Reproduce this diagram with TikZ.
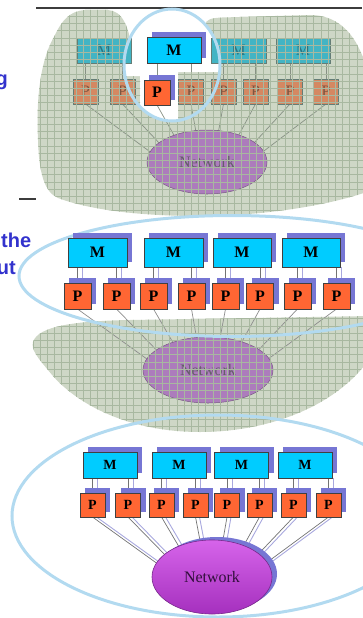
\documentclass[tikz,border=0pt]{standalone}
\usepackage{fontspec}
\setmainfont{Liberation Serif}
\newfontfamily\captionsans{Liberation Sans}
\usetikzlibrary{shapes.geometric,shadows,calc}
\pgfdeclarelayer{ground}
\pgfdeclarelayer{wires}
\pgfdeclarelayer{hubs}
\pgfdeclarelayer{dimboxes}
\pgfdeclarelayer{mesh}
\pgfdeclarelayer{ringlow}
\pgfdeclarelayer{top}
\pgfsetlayers{ground,wires,hubs,dimboxes,mesh,ringlow,main,top}

\definecolor{blobfill}{RGB}{206,215,198}
\definecolor{meshcol}{RGB}{168,184,160}
\definecolor{cyanbox}{RGB}{0,204,255}
\definecolor{orangebox}{RGB}{255,102,51}
\definecolor{cyandim}{RGB}{66,180,196}
\definecolor{orangedim}{RGB}{212,136,98}
\definecolor{cyandimtext}{RGB}{45,115,128}
\definecolor{orangedimtext}{RGB}{125,85,65}
\definecolor{dimedge}{RGB}{100,125,118}
\definecolor{shadowcol}{RGB}{118,118,212}
\definecolor{ringcol}{RGB}{178,218,240}
\definecolor{captioncol}{RGB}{50,50,205}
\definecolor{netdimfill}{RGB}{172,124,188}
\definecolor{netdimedge}{RGB}{120,90,130}
\definecolor{netdimtext}{RGB}{100,95,105}
\definecolor{netlight}{RGB}{214,100,234}
\definecolor{netdark}{RGB}{165,48,190}
\definecolor{netedge}{RGB}{120,40,140}
\definecolor{nettext}{RGB}{50,15,60}
\definecolor{wirecol}{RGB}{115,115,115}
\definecolor{wirelight}{RGB}{140,140,140}
\definecolor{wiredim}{RGB}{135,145,132}
\definecolor{wireshade}{RGB}{168,168,222}
\definecolor{rulecol}{RGB}{60,60,60}

% square mesh laid over the shaded regions
\newcommand\meshlines{%
  \foreach \gx in {4,11.2,...,366} {\draw[meshline] (\gx,0) -- (\gx,440);}%
  \foreach \gy in {1.8,9,...,440} {\draw[meshline] (0,\gy) -- (372,\gy);}%
}

\tikzset{
  rule/.style={draw=rulecol, line width=1.2pt},
  caption/.style={inner sep=0pt, text=captioncol, font=\captionsans\bfseries\fontsize{20}{24}\selectfont},
  meshline/.style={draw=meshcol, line width=0.55pt},
  box/.style={rectangle, inner sep=0pt, outer sep=0pt, line width=0.6pt},
  mbright/.style={box, draw=black!75, fill=cyanbox, font=\bfseries\fontsize{16}{16}\selectfont,
    general shadow={fill=shadowcol, draw=none, shadow xshift=5pt, shadow yshift=5pt}},
  pbright/.style={box, draw=black!75, fill=orangebox, font=\bfseries\fontsize{16}{16}\selectfont,
    general shadow={fill=shadowcol, draw=none, shadow xshift=5pt, shadow yshift=5pt}},
  mfaded/.style={box, draw=dimedge, fill=cyandim, text=cyandimtext, font=\fontsize{16}{16}\selectfont},
  pfaded/.style={box, draw=dimedge, fill=orangedim, text=orangedimtext, font=\fontsize{16}{16}\selectfont},
  netfaded/.style={ellipse, inner sep=0pt, draw=netdimedge, line width=0.5pt, fill=netdimfill,
    text=netdimtext, font=\fontsize{16}{16}\selectfont},
  netvivid/.style={ellipse, inner sep=0pt, draw=netedge, line width=0.6pt, top color=netlight,
    bottom color=netdark, text=nettext, font=\fontsize{16}{16}\selectfont,
    general shadow={fill=shadowcol, draw=none, shadow xshift=5pt, shadow yshift=3pt}},
  ring/.style={ellipse, inner sep=0pt, draw=ringcol, line width=3pt, fill=none},
  wire/.style={draw=wirecol, line width=0.7pt},
  lightwire/.style={draw=wirelight, line width=0.7pt},
  faintwire/.style={draw=wiredim, line width=0.7pt},
  shadewire/.style={draw=wireshade, line width=0.9pt},
  blobA/.style={insert path={(38,140) .. controls (36,100) and (40,60) .. (55,35)
    .. controls (62,20) and (70,11) .. (85,10) -- (108,10)
    .. controls (122,11) and (130,25) .. (133,60) -- (205,55) -- (205,25)
    .. controls (206,19) and (212,18) .. (222,17.5) -- (310,15)
    .. controls (335,15) and (352,30) .. (362,55) -- (372,75) -- (372,190)
    .. controls (330,206) and (260,216) .. (200,216)
    .. controls (140,216) and (90,210) .. (58,198)
    .. controls (44,192) and (39,172) .. (38,140) -- cycle}},
  blobB/.style={insert path={(33,342) .. controls (38,326) and (75,321) .. (130,320)
    -- (372,316) -- (372,355) .. controls (340,405) and (270,432) .. (200,432)
    .. controls (130,432) and (75,405) .. (48,370)
    .. controls (38,358) and (31,350) .. (33,342) -- cycle}},
  clearing/.style={insert path={(100,0) -- (260,0) -- (260,72) -- (178,72) -- (178,130)
    -- (140,130) -- (140,76) -- (100,76) -- cycle}}
}

\begin{document}
\begin{tikzpicture}[x=1pt,y=-1pt]
\useasboundingbox (0,0) rectangle (362,618);

% rules and the cut-off captions at the left
\coordinate (ruleA1) at (36,8);
\coordinate (ruleA2) at (362,8);
\coordinate (ruleB1) at (19,199);
\coordinate (ruleB2) at (36,199);
\draw[rule] (ruleA1) -- (ruleA2);
\draw[rule] (ruleB1) -- (ruleB2);
\node[caption, anchor=base east] (capG) at (8,85) {g};
\node[caption, anchor=base west] (capThe) at (1,247) {the};
\node[caption, anchor=base east] (capUt) at (16,274) {ut};

% ================= top: one node singled out =================
\begin{pgfonlayer}{ground}
  \fill[blobfill, blobA];
  \begin{scope}
    \clip (172,65) ellipse [x radius=48, y radius=56];
    \fill[white, clearing];
  \end{scope}
\end{pgfonlayer}

\begin{pgfonlayer}{dimboxes}
  \node[mfaded, minimum width=54pt, minimum height=25pt] (a1) at (104,50.5) {M};
  \node[mfaded, minimum width=55pt, minimum height=25pt] (a3) at (238.5,50.5) {M};
  \node[mfaded, minimum width=54pt, minimum height=25pt] (a4) at (303,50.5) {M};
  \foreach \i/\x in {1/85.5,2/122.5,4/191,5/223.5,6/255.5,7/290,8/326}
    \node[pfaded, minimum width=25pt, minimum height=25pt] (b\i) at (\x,91.5) {P};
\end{pgfonlayer}
\node[mbright, minimum width=54pt, minimum height=26pt] (a2) at (174,50) {M};
\node[pbright, minimum width=26pt, minimum height=25pt] (b3) at (157,92.5) {P};

\begin{pgfonlayer}{wires}
  \foreach \m/\p in {a1/b1,a1/b2,a2/b3,a2/b4,a3/b5,a3/b6,a4/b7,a4/b8}
    \draw[faintwire] (\p.north |- \m.south) -- (\p.north);
  \coordinate (hub1) at (207,194);
  \foreach \i in {1,...,8}
    \draw[faintwire] (b\i.south) -- (hub1);
\end{pgfonlayer}

\begin{pgfonlayer}{hubs}
  \node[netfaded, minimum width=120pt, minimum height=64pt] (net1) at (207,162) {Network};
\end{pgfonlayer}

\begin{pgfonlayer}{mesh}
  \begin{scope}[even odd rule]
    \clip[blobA];
    \clip (-10,-10) rectangle (380,640) (172,65) ellipse [x radius=48, y radius=56];
    \meshlines
  \end{scope}
  \begin{scope}[even odd rule]
    \clip[blobA];
    \clip (172,65) ellipse [x radius=48, y radius=56];
    \clip[clearing] (-10,-10) rectangle (380,640);
    \meshlines
  \end{scope}
\end{pgfonlayer}

\begin{pgfonlayer}{top}
  \node[ring, minimum width=96pt, minimum height=112pt] (focus1) at (172,65) {};
\end{pgfonlayer}

% ================= middle: the processor/memory row singled out =================
\begin{pgfonlayer}{ground}
  \fill[blobfill, blobB];
\end{pgfonlayer}

\foreach \i/\x/\w in {1/97.5/59,2/173.5/59,3/242/58,4/311/58}
  \node[mbright, minimum width=\w pt, minimum height=29pt] (c\i) at (\x,252.5) {M};
\foreach \i/\x in {1/77.5,2/116.5,3/153.5,4/191.5,5/225.5,6/260,7/297.5,8/336.5}
  \node[pbright, minimum width=27pt, minimum height=26pt] (d\i) at (\x,296) {P};

\begin{pgfonlayer}{wires}
  \foreach \m/\p in {c1/d1,c1/d2,c2/d3,c2/d4,c3/d5,c3/d6,c4/d7,c4/d8} {
    \draw[shadewire] ($(\p.north |- \m.south)+(5,0)$) -- ($(\p.north)+(5,0)$);
    \draw[wire] (\p.north |- \m.south) -- (\p.north);
  }
  \coordinate (hub2) at (208,403);
  \foreach \i in {1,...,8}
    \draw[lightwire] (d\i.south) -- (hub2);
\end{pgfonlayer}

\begin{pgfonlayer}{hubs}
  \node[netfaded, minimum width=130pt, minimum height=66pt] (net2) at (208,370) {Network};
\end{pgfonlayer}

\begin{pgfonlayer}{mesh}
  \begin{scope}
    \clip[blobB];
    \meshlines
  \end{scope}
\end{pgfonlayer}

\begin{pgfonlayer}{ringlow}
  \node[ring, minimum width=426pt, minimum height=121pt] (focus2) at (232,276) {};
\end{pgfonlayer}

% ================= bottom: the whole machine =================
\foreach \i/\x in {1/110,2/179,3/241.5,4/305}
  \node[mbright, minimum width=54pt, minimum height=26pt, font=\bfseries\fontsize{14}{14}\selectfont] (e\i) at (\x,465) {M};
\foreach \i/\x in {1/92.5,2/128,3/161.5,4/195.5,5/227,6/259.5,7/293.5,8/328.5}
  \node[pbright, minimum width=25pt, minimum height=24pt, font=\bfseries\fontsize{14}{14}\selectfont] (f\i) at (\x,505) {P};

\begin{pgfonlayer}{wires}
  \foreach \m/\p in {e1/f1,e1/f2,e2/f3,e2/f4,e3/f5,e3/f6,e4/f7,e4/f8} {
    \draw[shadewire] ($(\p.north |- \m.south)+(5,0)$) -- ($(\p.north)+(5,0)$);
    \draw[wire] (\p.north |- \m.south) -- (\p.north);
  }
  \coordinate (hub3) at (212,603);
  \foreach \i in {1,...,8} {
    \draw[shadewire] ($(f\i.south)+(4,0)$) -- ($(hub3)+(4,0)$);
    \draw[wire] (f\i.south) -- (hub3);
  }
\end{pgfonlayer}

\begin{pgfonlayer}{hubs}
  \node[netvivid, minimum width=120pt, minimum height=74pt] (net3) at (212,577) {Network};
\end{pgfonlayer}

\begin{pgfonlayer}{top}
  \node[ring, minimum width=412pt, minimum height=202pt] (focus3) at (218,516) {};
\end{pgfonlayer}

\end{tikzpicture}
\end{document}
